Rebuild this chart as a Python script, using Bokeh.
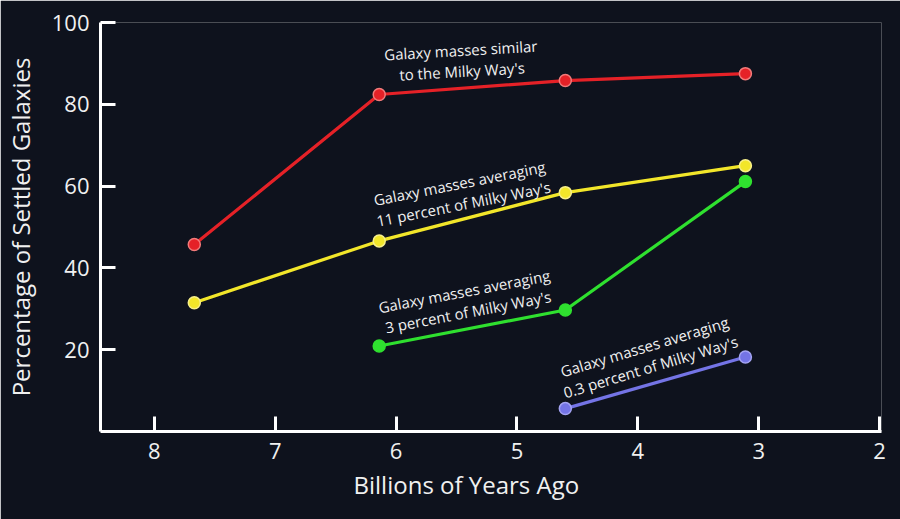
import math
from bokeh.plotting import figure
from bokeh.models import Range1d, FixedTicker, Title
from bokeh.core.properties import value
from bokeh.embed import file_html
from bokeh.resources import INLINE

# ---- data ----
years_ago = [7.67, 6.14, 4.60, 3.11]
red_pct = [45.7, 82.4, 85.8, 87.5]          # similar to the Milky Way's
yellow_pct = [31.5, 46.6, 58.4, 65.0]       # 11 percent of Milky Way's
green_years = [6.14, 4.60, 3.11]
green_pct = [20.9, 29.7, 61.1]              # 3 percent of Milky Way's
blue_years = [4.60, 3.11]
blue_pct = [5.6, 18.2]                      # 0.3 percent of Milky Way's

x_ticks = [8, 7, 6, 5, 4, 3, 2]
y_ticks = [20, 40, 60, 80, 100]

labels = [
    "Galaxy masses similar\nto the Milky Way's",
    "Galaxy masses averaging\n11 percent of Milky Way's",
    "Galaxy masses averaging\n3 percent of Milky Way's",
    "Galaxy masses averaging\n0.3 percent of Milky Way's",
]
label_x = [5.46, 5.46, 5.42, 3.92]
label_y = [90.7, 58.2, 31.8, 18.3]
label_deg = [3.3, 11.2, 10.8, 16.7]

FONT = "Open Sans"
BG = "#0e121d"
TXT = "#f0f0f0"

p = figure(width=900, height=519, output_backend="svg", toolbar_location=None,
           x_range=Range1d(8.446, 1.984), y_range=Range1d(0, 100),
           min_border_left=98, min_border_right=19, min_border_top=22,
           min_border_bottom=88)
p.background_fill_color = BG
p.border_fill_color = BG
p.outline_line_color = None
p.grid.visible = False

for ax in (p.xaxis[0], p.yaxis[0]):
    ax.axis_line_color = "white"
    ax.axis_line_width = 3
    ax.major_tick_line_color = "white"
    ax.major_tick_line_width = 3
    ax.major_tick_in = 15
    ax.major_tick_out = 0
    ax.minor_tick_line_color = None
    ax.major_label_text_color = TXT
    ax.major_label_text_font = FONT
    ax.major_label_text_font_size = "22px"
    ax.major_label_standoff = 11

p.xaxis.ticker = FixedTicker(ticks=x_ticks)
p.yaxis.ticker = FixedTicker(ticks=y_ticks)

p.yaxis.axis_label = "Percentage of Settled Galaxies"
p.yaxis.axis_label_text_color = TXT
p.yaxis.axis_label_text_font = FONT
p.yaxis.axis_label_text_font_size = "24px"
p.yaxis.axis_label_text_font_style = "normal"
p.yaxis.axis_label_standoff = 12

p.add_layout(Title(text="Billions of Years Ago", align="left", offset=253,
                   text_color=TXT, text_font=FONT, text_font_size="24px",
                   text_font_style="normal", standoff=8), "below")

series = [
    (years_ago, red_pct, "#e52127", "#f27a7a"),
    (years_ago, yellow_pct, "#f2e62a", "#f7ef8a"),
    (green_years, green_pct, "#2fe02f", "#2fe02f"),
    (blue_years, blue_pct, "#7474e6", "#a3a3f2"),
]
for xs, ys, col, edge in series:
    p.line(xs, ys, line_color=col, line_width=3.2)
    p.scatter(xs, ys, size=12, fill_color=col, line_color=edge, line_width=1.5)

p.text(x=label_x, y=label_y, text=labels,
       angle=[math.radians(a) for a in label_deg],
       text_color=TXT, text_font=value(FONT), text_font_size="15px",
       text_align="center", text_baseline="middle", text_line_height=1.05)

open("out.html", "w").write(file_html(p, INLINE))
